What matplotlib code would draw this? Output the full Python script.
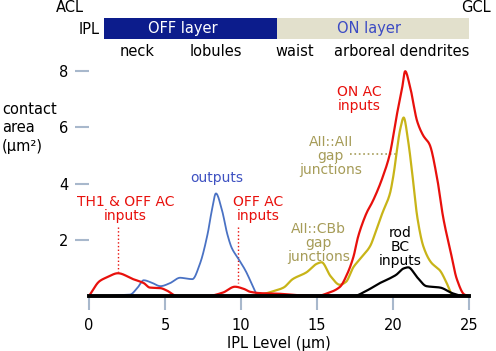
import numpy as np
import matplotlib
matplotlib.use("Agg")
import matplotlib.pyplot as plt
from matplotlib.patches import Rectangle

# ---- data ----
outputs_x = [0, 1.2, 2.0, 2.7, 3.2, 3.6, 4.1, 4.7, 5.3, 6.0, 6.4, 6.8, 7.3, 7.8, 8.1, 8.35, 8.75, 9.1, 9.4, 9.8, 10.3, 10.7, 11.1, 25]
outputs_y = [0, 0, 0.03, 0.05, 0.3, 0.56, 0.48, 0.35, 0.45, 0.65, 0.62, 0.6, 1.15, 2.2, 3.1, 3.65, 3.05, 2.2, 1.7, 1.35, 0.9, 0.45, 0.05, 0]

red_x = [0, 0.7, 1.2, 1.9, 2.9, 3.6, 4.0, 4.7, 5.1, 5.8, 7.8, 8.8, 9.6, 10.2, 10.6, 11.3, 12.5, 13.7, 15.0, 15.7, 16.5, 17.0, 17.4, 17.7, 18.0, 18.3, 18.6, 18.9, 19.3, 19.8, 20.2, 20.6, 20.8, 21.1, 21.6, 22.0, 22.4, 22.9, 23.3, 23.8, 24.2, 24.7, 25]
red_y = [0, 0.53, 0.67, 0.81, 0.6, 0.46, 0.3, 0.28, 0.2, 0.0, 0.0, 0.12, 0.33, 0.25, 0.15, 0.1, 0.08, 0.03, 0.0, 0.1, 0.32, 0.8, 1.4, 2.1, 2.6, 3.0, 3.3, 3.65, 4.2, 5.07, 6.3, 7.4, 8.0, 7.5, 6.2, 5.7, 5.4, 4.2, 2.8, 1.55, 0.6, 0.05, 0]

aii_x = [10.5, 11.3, 12.0, 12.8, 13.4, 14.3, 15.0, 15.3, 15.9, 16.5, 16.9, 17.4, 17.8, 18.5, 18.9, 19.3, 19.8, 20.0, 20.5, 20.7, 21.0, 21.3, 21.6, 22.0, 22.5, 23.1, 23.5, 23.9, 24.2]
aii_y = [0.0, 0.05, 0.15, 0.3, 0.6, 0.84, 1.15, 1.2, 0.7, 0.4, 0.5, 1.03, 1.3, 1.78, 2.35, 2.95, 3.65, 4.2, 6.0, 6.35, 5.5, 4.2, 2.8, 1.76, 1.2, 0.9, 0.5, 0.05, 0]

rod_x = [17.0, 17.4, 18.3, 19.1, 19.8, 20.2, 20.7, 21.0, 21.6, 22.2, 23.1, 23.9, 24.5]
rod_y = [0, 0.0, 0.2, 0.45, 0.63, 0.75, 0.98, 1.02, 0.66, 0.35, 0.3, 0.1, 0]

x_ticks = [0, 5, 10, 15, 20, 25]
y_ticks = [2, 4, 6, 8]

RED = "#e8100c"
BLUE = "#4a72c4"
BLUE_TXT = "#3f52c2"
OLIVE = "#c8b418"
OLIVE_TXT = "#a69c58"
TICKC = "#a8b8cc"

def smooth(xs, ys, n=800):
    xs = np.asarray(xs, float); ys = np.asarray(ys, float)
    t = np.linspace(xs[0], xs[-1], n)
    # monotone cubic (PCHIP) interpolation
    h = np.diff(xs); d = np.diff(ys) / h
    m = np.zeros_like(ys)
    for k in range(1, len(xs) - 1):
        if d[k-1] * d[k] > 0:
            w1 = 2*h[k] + h[k-1]; w2 = h[k] + 2*h[k-1]
            m[k] = (w1 + w2) / (w1/d[k-1] + w2/d[k])
    m[0] = d[0]; m[-1] = d[-1]
    idx = np.clip(np.searchsorted(xs, t) - 1, 0, len(xs) - 2)
    hh = h[idx]; s = (t - xs[idx]) / hh
    h00 = 2*s**3 - 3*s**2 + 1; h10 = s**3 - 2*s**2 + s
    h01 = -2*s**3 + 3*s**2; h11 = s**3 - s**2
    y = h00*ys[idx] + h10*hh*m[idx] + h01*ys[idx+1] + h11*hh*m[idx+1]
    return t, np.maximum(y, 0)

fig = plt.figure(figsize=(4.96, 3.51), dpi=100)
W, H = 496, 351
y0px, unit = 296, 28.1
ymax = 8.6
ax = fig.add_axes([89/W, (H - y0px)/H, 380/W, ymax*unit/H])
ax.set_xlim(0, 25)
ax.set_ylim(0, ymax)
for s in ax.spines.values():
    s.set_visible(False)

ax.plot(*smooth(outputs_x, outputs_y), color=BLUE, lw=1.3, zorder=3)
ax.plot(*smooth(aii_x, aii_y), color=OLIVE, lw=1.6, zorder=4)
ax.plot(*smooth(rod_x, rod_y), color="black", lw=1.6, zorder=5)
ax.plot(*smooth(red_x, red_y), color=RED, lw=1.6, zorder=6)
ax.axhline(0, color="black", lw=2.8, zorder=7, clip_on=False)

ax.set_xticks(x_ticks)
ax.set_yticks(y_ticks)
ax.tick_params(axis="x", length=10, width=1.5, color=TICKC, pad=6, labelsize=10.5, direction="out")
ax.tick_params(axis="y", length=10, width=1.5, color=TICKC, pad=5, labelsize=10.5, direction="out")
ax.set_xlabel("IPL Level (\u03bcm)", fontsize=10.5, labelpad=2)

# annotation dotted lines
ax.plot([1.9, 1.9], [2.45, 0.85], ls=":", color=RED, lw=1.0)
ax.plot([9.8, 9.8], [2.45, 0.45], ls=":", color=RED, lw=1.0)
ax.plot([17.2, 20.2], [5.07, 5.07], ls=":", color=OLIVE_TXT, lw=1.2)

fs = 10
ax.text(8.4, 4.2, "outputs", color=BLUE_TXT, fontsize=fs, ha="center", va="center")
ax.text(2.4, 3.1, "TH1 & OFF AC\ninputs", color=RED, fontsize=fs, ha="center", va="center", linespacing=1.0)
ax.text(11.1, 3.1, "OFF AC\ninputs", color=RED, fontsize=fs, ha="center", va="center", linespacing=1.0)
ax.text(17.8, 7.0, "ON AC\ninputs", color=RED, fontsize=fs, ha="center", va="center", linespacing=1.0)
ax.text(15.9, 4.97, "AII::AII\ngap\njunctions", color=OLIVE_TXT, fontsize=fs, ha="center", va="center", linespacing=1.0)
ax.text(15.1, 1.9, "AII::CBb\ngap\njunctions", color=OLIVE_TXT, fontsize=fs, ha="center", va="center", linespacing=1.0)
ax.text(20.5, 1.76, "rod\nBC\ninputs", color="black", fontsize=fs, ha="center", va="center", linespacing=1.0)

# y label
fig.text(2/W, 1 - 128/H, "contact\narea\n(\u03bcm\u00b2)", fontsize=10.5, ha="left", va="center", linespacing=1.25)

# header: layer bar
fig.patches.append(Rectangle((104/W, 1 - 39/H), 173/W, 21/H, transform=fig.transFigure, facecolor="#0c1c8c", edgecolor="none"))
fig.patches.append(Rectangle((277/W, 1 - 39/H), 192/W, 21/H, transform=fig.transFigure, facecolor="#e2e0cc", edgecolor="none"))
fig.text(183/W, 1 - 29/H, "OFF layer", color="white", fontsize=10.5, ha="center", va="center")
fig.text(369/W, 1 - 29/H, "ON layer", color="#3c4bc4", fontsize=10.5, ha="center", va="center")
fig.text(100/W, 1 - 29/H, "IPL", color="black", fontsize=10.5, ha="right", va="center")
fig.text(70/W, 1 - 8/H, "ACL", color="black", fontsize=10.5, ha="center", va="center")
fig.text(476/W, 1 - 8/H, "GCL", color="black", fontsize=10.5, ha="center", va="center")
for label, xp in [("neck", 137), ("lobules", 216), ("waist", 295), ("arboreal dendrites", 402)]:
    fig.text(xp/W, 1 - 52/H, label, color="black", fontsize=10.5, ha="center", va="center")

fig.savefig("out.png", dpi=100)
